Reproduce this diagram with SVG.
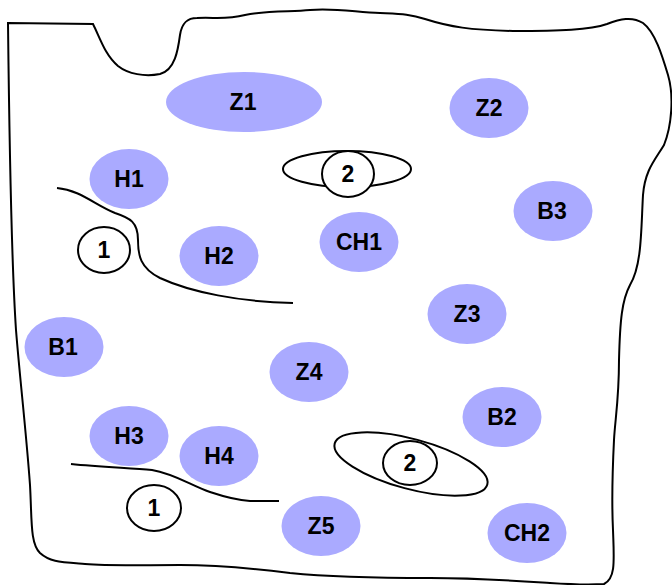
<svg xmlns="http://www.w3.org/2000/svg" width="672" height="585" viewBox="0 0 672 585">
<style>
.n{fill:#aaaaff;stroke:none}
.t{font-family:"Liberation Sans",Arial,sans-serif;font-weight:bold;font-size:23px;text-anchor:middle;fill:#000}
.ln{fill:none;stroke:#000;stroke-width:2}
.m{fill:#fff;stroke:#000;stroke-width:2}
</style>
<rect width="672" height="585" fill="#fff"/>
<g id="boundary">
<path class="ln" d="M 8,23 L 93,24 C 100,38 105,55 118,66 C 128,74 145,77 160,74 C 175,70 178,50 180,35 C 182,22 188,18 197,18 C 215,17 225,20 245,15 C 270,10 290,12 310,10 C 335,8 355,12 380,13 C 400,14 410,14 425,19 C 450,27 470,30 513,31 C 560,31 590,30 607,24 C 620,19 632,16 643,23 C 655,32 662,55 668,75 C 674,95 672,125 664,145 C 655,160 645,170 643,195 C 641,230 642,265 630,285 C 622,300 620,320 619,360 C 619,400 615,420 614,440 C 612,480 612,510 613,530 C 614,560 616,578 604,584 C 590,585 565,584 550,583 C 520,581 480,578 430,578 C 380,578 330,577 290,573 C 250,568 220,565 180,565 C 140,565 110,566 85,564 C 60,562 50,562 40,553 C 30,543 32,520 30,485 C 26,430 20,380 16,330 C 12,270 10,200 8,23 Z"/>
</g>
<g id="connectors">
<path class="ln" d="M 57,188 C 80,190 95,205 115,213 C 130,218 138,222 138,240 C 138,255 140,268 160,278 C 190,292 240,302 293,303"/>
<path class="ln" d="M 71,464 C 100,467 130,468 152,470 C 175,474 190,485 210,492 C 225,497 235,500 250,501 L 279,501"/>
</g>
<g id="Z1"><ellipse class="n" cx="244" cy="102" rx="78" ry="30"/><text class="t" x="243" y="110">Z1</text></g>
<g id="Z2"><ellipse class="n" cx="489" cy="108" rx="39.5" ry="30"/><text class="t" x="489" y="116">Z2</text></g>
<g id="H1"><ellipse class="n" cx="129" cy="179" rx="39.5" ry="30"/><text class="t" x="129" y="187">H1</text></g>
<g id="B3"><ellipse class="n" cx="553" cy="211" rx="39.5" ry="30"/><text class="t" x="552" y="219">B3</text></g>
<g id="H2"><ellipse class="n" cx="219" cy="256" rx="39.5" ry="30"/><text class="t" x="219" y="264">H2</text></g>
<g id="CH1"><ellipse class="n" cx="359" cy="242" rx="39.5" ry="30"/><text class="t" x="359" y="250">CH1</text></g>
<g id="Z3"><ellipse class="n" cx="467" cy="314" rx="39.5" ry="30"/><text class="t" x="467" y="322">Z3</text></g>
<g id="B1"><ellipse class="n" cx="64" cy="347" rx="39.5" ry="30"/><text class="t" x="63" y="355">B1</text></g>
<g id="Z4"><ellipse class="n" cx="309" cy="372" rx="39.5" ry="30"/><text class="t" x="309" y="380">Z4</text></g>
<g id="B2"><ellipse class="n" cx="502" cy="417" rx="39.5" ry="30"/><text class="t" x="502" y="425">B2</text></g>
<g id="H3"><ellipse class="n" cx="129" cy="436" rx="39.5" ry="30"/><text class="t" x="129" y="444">H3</text></g>
<g id="H4"><ellipse class="n" cx="219" cy="456" rx="39.5" ry="30"/><text class="t" x="219" y="464">H4</text></g>
<g id="Z5"><ellipse class="n" cx="321" cy="526" rx="39.5" ry="30"/><text class="t" x="321" y="534">Z5</text></g>
<g id="CH2"><ellipse class="n" cx="527" cy="533" rx="39.5" ry="30"/><text class="t" x="527" y="541">CH2</text></g>
<g id="marker1a"><ellipse class="m" cx="104" cy="250" rx="26" ry="23"/><text class="t" x="104" y="258">1</text></g>
<g id="marker1b"><ellipse class="m" cx="154" cy="508" rx="27" ry="23"/><text class="t" x="154" y="516">1</text></g>
<g id="marker2a"><ellipse class="ln" cx="347" cy="169" rx="64" ry="18"/><ellipse class="m" cx="348" cy="174" rx="26" ry="23"/><text class="t" x="348" y="182">2</text></g>
<g id="marker2b"><ellipse class="ln" cx="411" cy="464" rx="79" ry="25" transform="rotate(15 411 464)"/><ellipse class="m" cx="410" cy="463" rx="27" ry="22"/><text class="t" x="410" y="471">2</text></g>
</svg>
